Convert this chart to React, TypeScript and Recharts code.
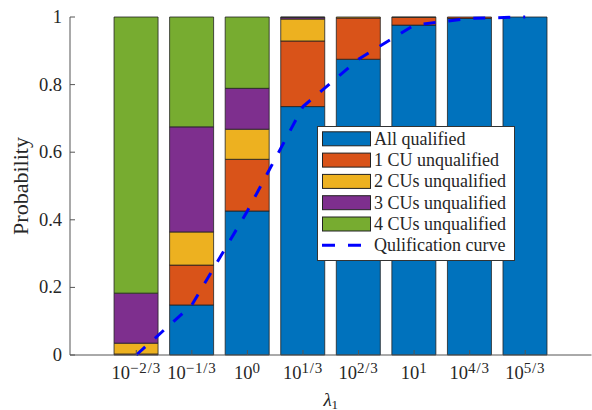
import React from 'react';
import { ComposedChart, Bar, Line, XAxis, YAxis, Legend } from 'recharts';

// exponent labels for 10^x categories
const categories = ['−2/3', '−1/3', '0', '1/3', '2/3', '1', '4/3', '5/3'];
const tickBase = '10';
const allQualified = [0, 0.148, 0.426, 0.735, 0.875, 0.976, 0.996, 1];
const oneCU = [0.003, 0.118, 0.153, 0.194, 0.122, 0.023, 0.004, 0];
const twoCUs = [0.032, 0.098, 0.089, 0.065, 0.003, 0.001, 0, 0];
const threeCUs = [0.148, 0.311, 0.121, 0.005, 0, 0, 0, 0];
const fourCUs = [0.817, 0.325, 0.211, 0.001, 0, 0, 0, 0];
const qualCurve = [0, 0.148, 0.426, 0.735, 0.875, 0.976, 0.996, 1];
const yTicks = [0, 0.2, 0.4, 0.6, 0.8, 1];

const seriesNames = [
  'All qualified',
  '1 CU unqualified',
  '2 CUs unqualified',
  '3 CUs unqualified',
  '4 CUs unqualified',
  'Qulification curve',
];
const seriesColors = ['#0072BD', '#D95319', '#EDB120', '#7E2F8E', '#77AC30', '#0000FF'];

const data = categories.map((c, i) => ({
  cat: c,
  s0: allQualified[i],
  s1: oneCU[i],
  s2: twoCUs[i],
  s3: threeCUs[i],
  s4: fourCUs[i],
  curve: qualCurve[i],
}));

const FONT = '"Liberation Serif", "Times New Roman", serif';
const AXIS = '#555555';
const TEXT = '#262626';
const TICK = 5;

const XTickBottom = (props: any) => {
  const { x, y, payload } = props;
  return (
    <g>
      <line x1={x} y1={y} x2={x} y2={y - TICK} stroke={AXIS} strokeWidth={1} />
      <text x={x} y={y + 24} textAnchor="middle" fontFamily={FONT} fontSize={18.5} fill={TEXT}>
        <tspan>{tickBase}</tspan>
        <tspan dy={-6.5} fontSize={15} letterSpacing={0.8}>{payload.value}</tspan>
      </text>
    </g>
  );
};

const XTickTop = (props: any) => {
  const { x, y } = props;
  return <line x1={x} y1={y} x2={x} y2={y + TICK} stroke={AXIS} strokeWidth={1} />;
};

const YTickLeft = (props: any) => {
  const { x, y, payload } = props;
  return (
    <g>
      <line x1={x} y1={y} x2={x + TICK} y2={y} stroke={AXIS} strokeWidth={1} />
      <text x={x - 8} y={y + 6} textAnchor="end" fontFamily={FONT} fontSize={18.5} fill={TEXT}>
        {String(payload.value)}
      </text>
    </g>
  );
};

const YTickRight = (props: any) => {
  const { x, y } = props;
  return <line x1={x} y1={y} x2={x - TICK} y2={y} stroke={AXIS} strokeWidth={1} />;
};

const YLabel = (props: any) => {
  const vb = props.viewBox || { x: 0, y: 17, width: 70, height: 338 };
  const cx = vb.x + 20;
  const cy = vb.y + vb.height / 2;
  return (
    <text
      x={cx}
      y={cy}
      transform={`rotate(-90 ${cx} ${cy})`}
      textAnchor="middle"
      dominantBaseline="central"
      fontFamily={FONT}
      fontSize={22}
      fill={TEXT}
    >
      Probability
    </text>
  );
};

const XLabel = (props: any) => {
  const vb = props.viewBox || { x: 70, y: 355, width: 521, height: 55 };
  const cx = vb.x + vb.width / 2;
  const cy = vb.y + 51;
  return (
    <text x={cx} y={cy} textAnchor="middle" fontFamily={FONT} fontSize={19} fill={TEXT}>
      <tspan fontStyle="italic">λ</tspan>
      <tspan dy={2.5} fontSize={13}>1</tspan>
    </text>
  );
};

const LegendBox = (props: any) => {
  const payload: any[] = props.payload || [];
  const rows = seriesNames.map((name, i) => {
    const p = payload.find((e: any) => e.value === name);
    return { name, color: (p && p.color) || seriesColors[i], isLine: i === 5 };
  });
  const W = 198;
  const H = 135;
  return (
    <svg width={W} height={H} style={{ display: 'block' }}>
      <rect x={0.5} y={0.5} width={W - 1} height={H - 1} fill="#fff" stroke="#333" strokeWidth={1} />
      {rows.map((r, i) => {
        const cy = 12.8 + i * 21.3;
        return (
          <g key={r.name}>
            {r.isLine ? (
              <line
                x1={5}
                y1={cy}
                x2={54}
                y2={cy}
                stroke={r.color}
                strokeWidth={3}
                strokeDasharray="13 13"
              />
            ) : (
              <rect x={5.5} y={cy - 7} width={48} height={14} fill={r.color} stroke="#222" strokeWidth={1} />
            )}
            <text x={57} y={cy + 6} fontFamily={FONT} fontSize={18} fill={TEXT}>
              {r.name}
            </text>
          </g>
        );
      })}
    </svg>
  );
};

export default function App() {
  return (
    <div style={{ position: 'absolute', left: 0, top: 0, width: 592, height: 410, background: '#fff' }}>
      <ComposedChart
        width={592}
        height={410}
        data={data}
        margin={{ top: 17, right: 0.5, bottom: 0, left: 0 }}
        barCategoryGap="10%"
      >
        <Bar dataKey="s0" name={seriesNames[0]} stackId="a" fill={seriesColors[0]} stroke="#222" strokeWidth={0.8} isAnimationActive={false} />
        <Bar dataKey="s1" name={seriesNames[1]} stackId="a" fill={seriesColors[1]} stroke="#222" strokeWidth={0.8} isAnimationActive={false} />
        <Bar dataKey="s2" name={seriesNames[2]} stackId="a" fill={seriesColors[2]} stroke="#222" strokeWidth={0.8} isAnimationActive={false} />
        <Bar dataKey="s3" name={seriesNames[3]} stackId="a" fill={seriesColors[3]} stroke="#222" strokeWidth={0.8} isAnimationActive={false} />
        <Bar dataKey="s4" name={seriesNames[4]} stackId="a" fill={seriesColors[4]} stroke="#222" strokeWidth={0.8} isAnimationActive={false} />
        <Line
          dataKey="curve"
          name={seriesNames[5]}
          type="linear"
          stroke={seriesColors[5]}
          strokeWidth={3}
          strokeDasharray="12 13"
          dot={false}
          activeDot={false}
          isAnimationActive={false}
        />
        <XAxis
          dataKey="cat"
          height={55}
          interval={0}
          padding={{ left: 38.5, right: 38.5 }}
          axisLine={{ stroke: AXIS, strokeWidth: 1 }}
          tickLine={false}
          tickSize={0}
          tickMargin={0}
          tick={XTickBottom}
          label={{ content: XLabel }}
        />
        <XAxis
          xAxisId="top"
          dataKey="cat"
          orientation="top"
          height={0}
          interval={0}
          padding={{ left: 38.5, right: 38.5 }}
          axisLine={{ stroke: AXIS, strokeWidth: 1 }}
          tickLine={false}
          tickSize={0}
          tickMargin={0}
          tick={XTickTop}
        />
        <YAxis
          width={70}
          type="number"
          domain={[0, 1]}
          ticks={yTicks}
          interval={0}
          axisLine={{ stroke: AXIS, strokeWidth: 1 }}
          tickLine={false}
          tickSize={0}
          tickMargin={0}
          tick={YTickLeft}
          label={{ content: YLabel }}
        />
        <YAxis
          yAxisId="right"
          orientation="right"
          width={0}
          type="number"
          domain={[0, 1]}
          ticks={yTicks}
          interval={0}
          axisLine={{ stroke: AXIS, strokeWidth: 1 }}
          tickLine={false}
          tickSize={0}
          tickMargin={0}
          tick={YTickRight}
        />
        <Legend
          layout="vertical"
          align="center"
          verticalAlign="middle"
          content={LegendBox}
          wrapperStyle={{ left: 317, top: 126, width: 198, height: 135 }}
        />
      </ComposedChart>
    </div>
  );
}
